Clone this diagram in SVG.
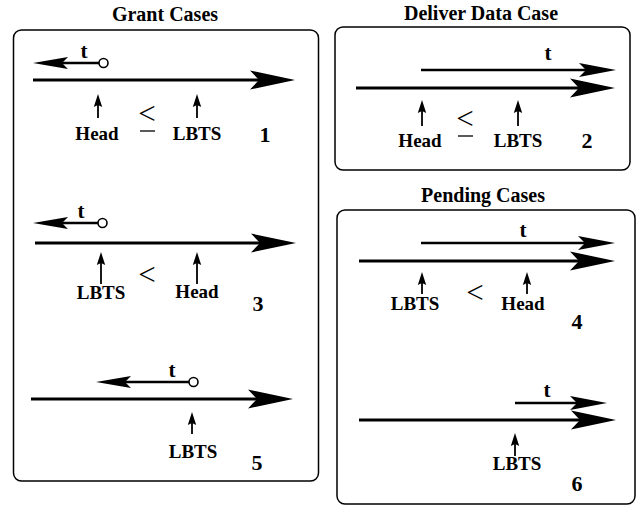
<svg xmlns="http://www.w3.org/2000/svg" width="638" height="507" viewBox="0 0 638 507">
<style>
.box{fill:none;stroke:#000;stroke-width:1.5}
.title{font-family:"Liberation Serif","Times New Roman",serif;font-weight:bold;font-size:20px;text-anchor:middle;fill:#000}
.lbl{font-family:"Liberation Serif","Times New Roman",serif;font-weight:bold;font-size:19px;text-anchor:middle;fill:#000}
.num{font-family:"Liberation Serif","Times New Roman",serif;font-weight:bold;font-size:22px;text-anchor:middle;fill:#000}
.tl{font-family:"Liberation Serif","Times New Roman",serif;font-weight:bold;font-size:21px;text-anchor:middle;fill:#000}
.rel{font-family:"Liberation Serif","Times New Roman",serif;font-size:31px;text-anchor:middle;fill:#000}
.main{stroke:#000;stroke-width:3;marker-end:url(#big)}
.targ{stroke:#000;stroke-width:2.6;marker-end:url(#mid)}
.back{stroke:#000;stroke-width:2.6;marker-end:url(#lft)}
.up{stroke:#000;stroke-width:1.8;marker-end:url(#sml)}
.dot{fill:#fff;stroke:#000;stroke-width:1.6}
.bar{stroke:#000;stroke-width:1.3}
</style>
<defs>
<marker id="big" markerUnits="userSpaceOnUse" viewBox="0 -10 46 20" markerWidth="46" markerHeight="20" refX="9" refY="0" orient="auto"><path d="M0,-9.5 L45,0 L0,9.5 L9,0 Z" fill="#000"/></marker>
<marker id="mid" markerUnits="userSpaceOnUse" viewBox="0 -8 38 16" markerWidth="38" markerHeight="16" refX="7" refY="0" orient="auto"><path d="M0,-7 L37,0 L0,7 L7,0 Z" fill="#000"/></marker>
<marker id="lft" markerUnits="userSpaceOnUse" viewBox="0 -7 36 14" markerWidth="36" markerHeight="14" refX="6" refY="0" orient="auto"><path d="M0,-6 L35,0 L0,6 L6,0 Z" fill="#000"/></marker>
<marker id="sml" markerUnits="userSpaceOnUse" viewBox="0 -5 14 10" markerWidth="14" markerHeight="10" refX="2" refY="0" orient="auto"><path d="M0,-4.2 L13,0 L0,4.2 L2,0 Z" fill="#000"/></marker>
</defs>

<g id="grant">
<rect class="box" x="13.5" y="30" width="305" height="451" rx="8"/>
<text class="title" x="165" y="21">Grant Cases</text>
</g>
<g id="deliver">
<rect class="box" x="335" y="27" width="295" height="143" rx="8"/>
<text class="title" x="481" y="20">Deliver Data Case</text>
</g>
<g id="pending">
<rect class="box" x="337" y="210" width="298" height="294" rx="8"/>
<text class="title" x="483" y="202">Pending Cases</text>
</g>

<g id="case1">
<text class="tl" x="84" y="58">t</text>
<text class="lbl" x="97" y="140">Head</text>
<text class="rel" x="147" y="124">&lt;</text>
<text class="lbl" x="197" y="140">LBTS</text>
<text class="num" x="265" y="142">1</text>
</g>
<g id="case3">
<text class="tl" x="81" y="218">t</text>
<text class="lbl" x="101" y="299">LBTS</text>
<text class="rel" x="147" y="285">&lt;</text>
<text class="lbl" x="197" y="298">Head</text>
<text class="num" x="258" y="311">3</text>
</g>
<g id="case5">
<text class="tl" x="172" y="377">t</text>
<text class="lbl" x="193" y="458">LBTS</text>
<text class="num" x="257" y="470">5</text>
</g>
<g id="case2">
<text class="tl" x="548" y="60">t</text>
<text class="lbl" x="420" y="147">Head</text>
<text class="rel" x="465" y="129">&lt;</text>
<text class="lbl" x="518" y="147">LBTS</text>
<text class="num" x="587" y="148">2</text>
</g>
<g id="case4">
<text class="tl" x="523" y="237">t</text>
<text class="lbl" x="415" y="310">LBTS</text>
<text class="rel" x="475" y="303">&lt;</text>
<text class="lbl" x="523" y="310">Head</text>
<text class="num" x="577" y="329">4</text>
</g>
<g id="case6">
<text class="tl" x="547" y="397">t</text>
<text class="lbl" x="517" y="470">LBTS</text>
<text class="num" x="577" y="491">6</text>
</g>

<g id="connectors">
<!-- case 1 -->
<line class="back" x1="99" y1="63" x2="62" y2="63"/>
<circle class="dot" cx="103.5" cy="63" r="4.5"/>
<line class="main" x1="33" y1="80" x2="259" y2="80"/>
<line class="up" x1="98" y1="118" x2="98" y2="105"/>
<line class="up" x1="197" y1="118" x2="197" y2="105"/>
<line class="bar" x1="140" y1="131" x2="155" y2="131"/>
<!-- case 3 -->
<line class="back" x1="98" y1="223" x2="62" y2="223"/>
<circle class="dot" cx="102.5" cy="223" r="4.5"/>
<line class="main" x1="35" y1="243" x2="260" y2="243"/>
<line class="up" x1="101" y1="284" x2="101" y2="263"/>
<line class="up" x1="197" y1="284" x2="197" y2="263"/>
<!-- case 5 -->
<line class="back" x1="189" y1="382" x2="125" y2="382"/>
<circle class="dot" cx="193.5" cy="382" r="4.5"/>
<line class="main" x1="31" y1="399" x2="257" y2="399"/>
<line class="up" x1="192" y1="434" x2="192" y2="423"/>
<!-- case 2 -->
<line class="targ" x1="421" y1="70" x2="586" y2="70"/>
<line class="main" x1="356" y1="88" x2="579" y2="88"/>
<line class="up" x1="422" y1="126" x2="422" y2="111"/>
<line class="up" x1="518" y1="126" x2="518" y2="111"/>
<line class="bar" x1="458" y1="136" x2="473" y2="136"/>
<!-- case 4 -->
<line class="targ" x1="421" y1="243" x2="585" y2="243"/>
<line class="main" x1="359" y1="261" x2="579" y2="261"/>
<line class="up" x1="422" y1="294" x2="422" y2="283"/>
<line class="up" x1="527" y1="294" x2="527" y2="283"/>
<!-- case 6 -->
<line class="targ" x1="515" y1="403" x2="577" y2="403"/>
<line class="main" x1="359" y1="420" x2="580" y2="420"/>
<line class="up" x1="515" y1="456" x2="515" y2="444"/>
</g>
</svg>
